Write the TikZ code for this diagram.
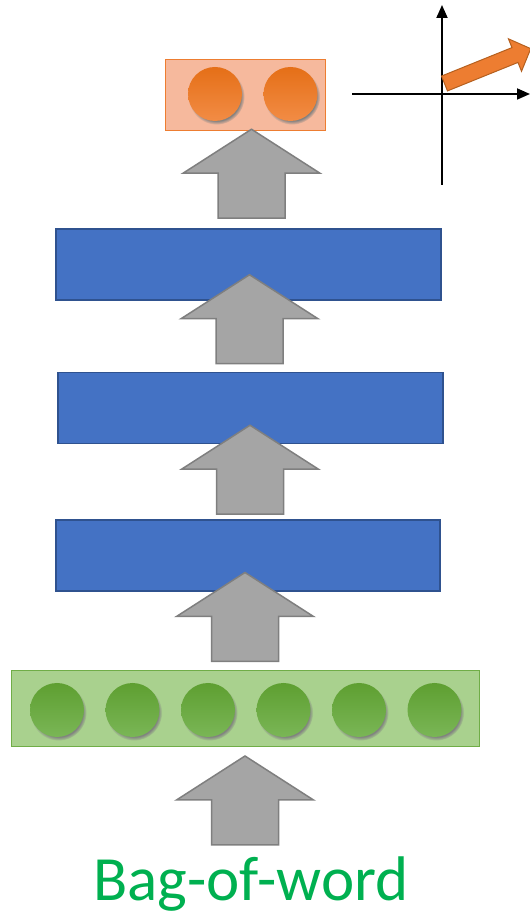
\documentclass[tikz,border=0pt]{standalone}
\usepackage{fontspec}
\newfontfamily\labelfont{Carlito}
\usetikzlibrary{calc,shadows,arrows.meta}
\definecolor{layerblue}{HTML}{4472C4}
\definecolor{layeredge}{HTML}{2F528F}
\definecolor{outfill}{HTML}{F6B99D}
\definecolor{outedge}{HTML}{ED7D31}
\definecolor{outtop}{HTML}{E56F17}
\definecolor{outbot}{HTML}{F28C45}
\definecolor{infill}{HTML}{A9D18E}
\definecolor{inedge}{HTML}{70AD47}
\definecolor{intop}{HTML}{5E9F31}
\definecolor{inbot}{HTML}{7AB656}
\definecolor{arrfill}{HTML}{A5A5A5}
\definecolor{arredge}{HTML}{7F7F7F}
\definecolor{wordgreen}{HTML}{00B050}
\definecolor{vecedge}{HTML}{B5601F}

\begin{document}
\begin{tikzpicture}[x=1pt,y=1pt,node distance=75.5pt,
  layer/.style={rectangle,draw=layeredge,fill=layerblue,line width=1.5pt,minimum width=385pt,minimum height=71pt,inner sep=0pt},
  out box/.style={rectangle,draw=outedge,fill=outfill,line width=1pt,minimum width=160pt,minimum height=71pt,inner sep=0pt},
  in box/.style={rectangle,draw=inedge,fill=infill,line width=1pt,minimum width=468pt,minimum height=76pt,inner sep=0pt},
  out unit/.style={circle,minimum size=54pt,inner sep=0pt,top color=outtop,bottom color=outbot,
    circular drop shadow={shadow scale=1.04,shadow xshift=1.5pt,shadow yshift=-2.5pt}},
  in unit/.style={circle,minimum size=54pt,inner sep=0pt,top color=intop,bottom color=inbot,
    circular drop shadow={shadow scale=1.04,shadow xshift=1.5pt,shadow yshift=-2.5pt}},
  axis/.style={line width=1.8pt,-{Triangle[width=11pt,length=13pt]}},
  pics/uparrow/.style={code={
    \draw[fill=arrfill,draw=arredge,line width=1.5pt,line join=miter]
      (-33.5,0) -- (33.5,0) -- (33.5,45) -- (68.5,45) -- (0,89) -- (-68.5,45) -- (-33.5,45) -- cycle;}}]

  \useasboundingbox (0,0) rectangle (530,911);

  % layers
  \node[out box] (out) at (245,815.5) {};
  \node[layer] (h1) at (248.5,646.5) {};
  \node[layer] (h2) at (250.5,503) {};
  \node[layer,minimum width=384pt] (h3) at (248,355.5) {};
  \node[in box] (in) at (245,202) {};

  % units
  \node[out unit] (o1) at (215,817) {};
  \node[out unit] (o2) [right of=o1] {};

  \node[in unit] (x1) at (57,201) {};
  \node[in unit] (x2) [right of=x1] {};
  \node[in unit] (x3) [right of=x2] {};
  \node[in unit] (x4) [right of=x3] {};
  \node[in unit] (x5) [right of=x4] {};
  \node[in unit] (x6) [right of=x5] {};

  \node[font=\labelfont\fontsize{63}{63}\selectfont,text=wordgreen,anchor=base,inner sep=0pt] (bow) at (251,10) {Bag-of-word};

  % block arrows
  \pic at ($(bow.base)+(-6,56)$) {uparrow};
  \pic at ($(in.north)+(0,9)$) {uparrow};
  \pic at ($(h3.north)+(2,5)$) {uparrow};
  \pic at ($(h2.north)+(-1,8)$) {uparrow};
  \pic at ($(h1.north)+(3,10)$) {uparrow};

  % embedding space
  \coordinate (O) at (442,817);
  \coordinate (xl) at (352,817);
  \coordinate (xr) at (530,817);
  \coordinate (yb) at (442,726);
  \coordinate (yt) at (442,906);
  \draw[axis] (xl) -- (xr);
  \draw[axis] (yb) -- (yt);

  \begin{scope}[shift={(444.5,827.5)},rotate=22]
    \draw[fill=outedge,draw=vecedge,line width=1pt,line join=miter]
      (0,-8) -- (76,-8) -- (76,-17.5) -- (93,0) -- (76,17.5) -- (76,8) -- (0,8) -- cycle;
  \end{scope}

\end{tikzpicture}
\end{document}
